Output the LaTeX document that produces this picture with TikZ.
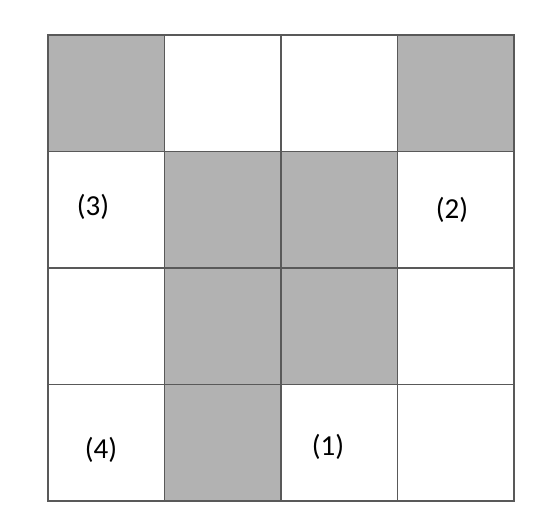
\documentclass[tikz,border=0pt]{standalone}
\usepackage{fontspec}
\setmainfont{Carlito}
\usetikzlibrary{positioning}

\begin{document}
\begin{tikzpicture}[
        x=0.5pt, y=-0.5pt,
        font=\fontsize{14.5}{16}\selectfont,
        cell/.style={draw=black!65, line width=0.9pt, rectangle, minimum width=58.25pt, minimum height=58.25pt, inner sep=0pt, outer sep=0pt},
        shaded/.style={cell, fill=black!30},
        plain/.style={cell, fill=white},
        tag/.style={inner sep=0pt}
    ]
    \useasboundingbox (0,0) rectangle (541,529);

    % Grid cells, row by row
    \foreach \r/\c/\s in {0/0/shaded,0/1/plain,0/2/plain,0/3/shaded,
                          1/0/plain,1/1/shaded,1/2/shaded,1/3/plain,
                          2/0/plain,2/1/shaded,2/2/shaded,2/3/plain,
                          3/0/plain,3/1/shaded,3/2/plain,3/3/plain}
        \node[\s] (cell-\r-\c) at ({48+116.5*\c+58.25},{35+116.5*\r+58.25}) {};

    % Labels
    \node[tag] (lab3) at (93,207) {(3)};
    \node[tag] (lab2) at (452,210) {(2)};
    \node[tag] (lab4) at (101,450) {(4)};
    \node[tag] (lab1) at (328,447) {(1)};

\end{tikzpicture}
\end{document}
